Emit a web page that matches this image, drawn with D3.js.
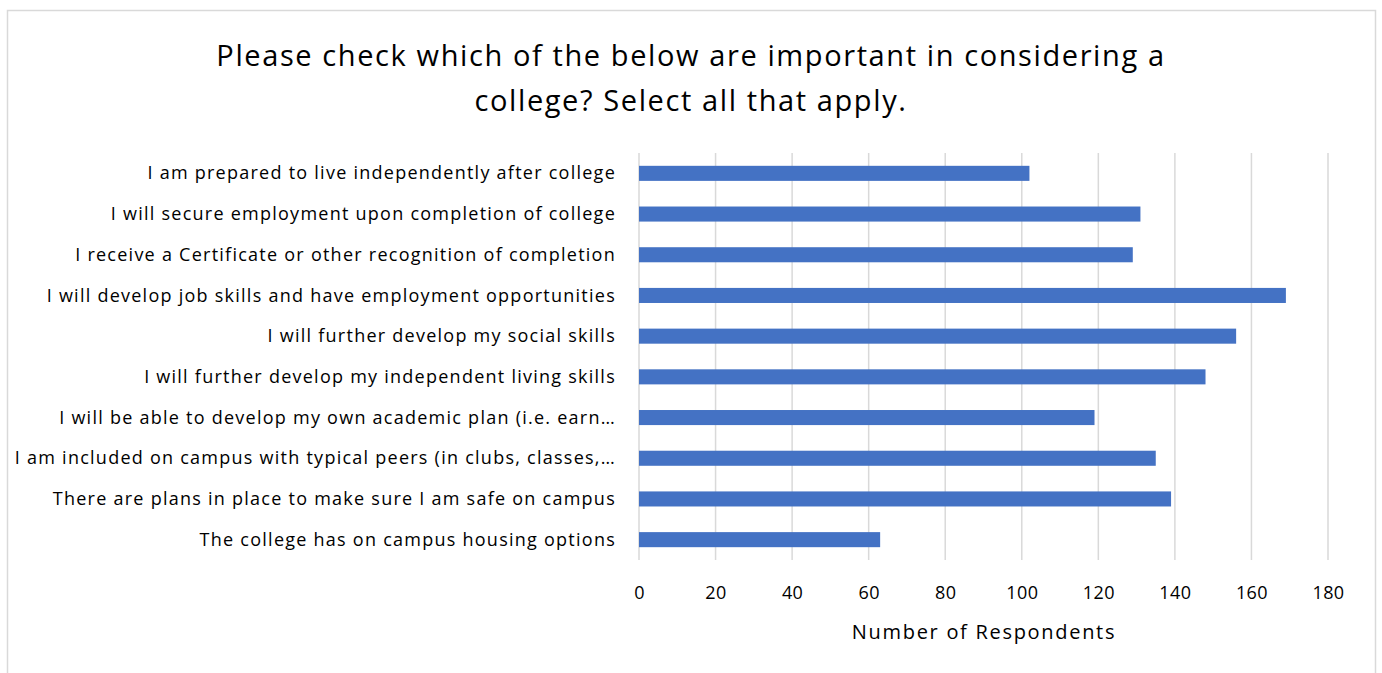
<!DOCTYPE html>
<html>
<head>
<meta charset="utf-8">
<script src="https://cdn.jsdelivr.net/npm/d3@7"></script>
<style>
  html, body { margin: 0; padding: 0; background: #fff; }
  svg { display: block; }
  text { font-family: "Open Sans", Lato, sans-serif; fill: #000; }
</style>
</head>
<body>
<svg id="chart" width="1382" height="673"></svg>
<script>
// Survey responses, listed top to bottom as shown
const categories = [
  "I am prepared to live independently after college",
  "I will secure employment upon completion of college",
  "I receive a Certificate or other recognition of completion",
  "I will develop job skills and have employment opportunities",
  "I will further develop my social skills",
  "I will further develop my independent living skills",
  "I will be able to develop my own academic plan (i.e. earn\u2026",
  "I am included on campus with typical peers (in clubs, classes,\u2026",
  "There are plans in place to make sure I am safe on campus",
  "The college has on campus housing options"
];
const respondents = [102, 131, 129, 169, 156, 148, 119, 135, 139, 63];
const xTicks = [0, 20, 40, 60, 80, 100, 120, 140, 160, 180];
const titleLines = [
  "Please check which of the below are important in considering a",
  "college? Select all that apply."
];
const xTitle = "Number of Respondents";

const FONT = "'Open Sans', Lato, sans-serif";
const svg = d3.select("#chart");
const plot = { left: 639, right: 1328, top: 153, bottom: 560 };

// chart frame
svg.append("rect")
  .attr("x", 7.5).attr("y", 10.5)
  .attr("width", 1368).attr("height", 680)
  .attr("fill", "#fff").attr("stroke", "#d9d9d9").attr("stroke-width", 1.5);

// title
svg.append("g").selectAll("text").data(titleLines).join("text")
  .attr("x", 691).attr("y", (d, i) => 66 + i * 45)
  .attr("text-anchor", "middle")
  .style("font-size", "29px")
  .style("letter-spacing", "1.6px")
  .text(d => d);

const x = d3.scaleLinear().domain([0, 180]).range([plot.left, plot.right]);
const y = d3.scaleBand().domain(categories).range([plot.top, plot.bottom]).paddingInner(0.63).paddingOuter(0.315);

// vertical gridlines
svg.append("g").selectAll("line").data(xTicks).join("line")
  .attr("x1", d => x(d)).attr("x2", d => x(d))
  .attr("y1", plot.top).attr("y2", plot.bottom)
  .attr("stroke", "#d9d9d9").attr("stroke-width", 1.5);

// bars
svg.append("g").selectAll("rect").data(categories).join("rect")
  .attr("x", x(0))
  .attr("y", d => y(d))
  .attr("width", (d, i) => x(respondents[i]) - x(0))
  .attr("height", y.bandwidth())
  .attr("fill", "#4472c4");

// x axis tick labels
const xAxis = d3.axisBottom(x).tickValues(xTicks).tickSize(0).tickPadding(0);
const gx = svg.append("g").attr("transform", `translate(0,${plot.bottom})`).call(xAxis);
gx.select(".domain").remove();
gx.selectAll("text")
  .attr("dy", 0).attr("y", 39)
  .style("font-family", FONT)
  .style("font-size", "18px")
  .style("letter-spacing", "0.4px")
  .attr("fill", "#000");

// y axis category labels
const yAxis = d3.axisLeft(y).tickSize(0).tickPadding(23);
const gy = svg.append("g").attr("transform", `translate(${plot.left},0)`).call(yAxis);
gy.select(".domain").remove();
gy.selectAll("text")
  .attr("dy", "0.34em")
  .style("font-family", FONT)
  .style("font-size", "18px")
  .style("letter-spacing", "1.25px")
  .attr("fill", "#000");

// axis title
svg.append("text")
  .attr("x", 984).attr("y", 639)
  .attr("text-anchor", "middle")
  .style("font-size", "20px")
  .style("letter-spacing", "1.7px")
  .text(xTitle);
</script>
</body>
</html>
